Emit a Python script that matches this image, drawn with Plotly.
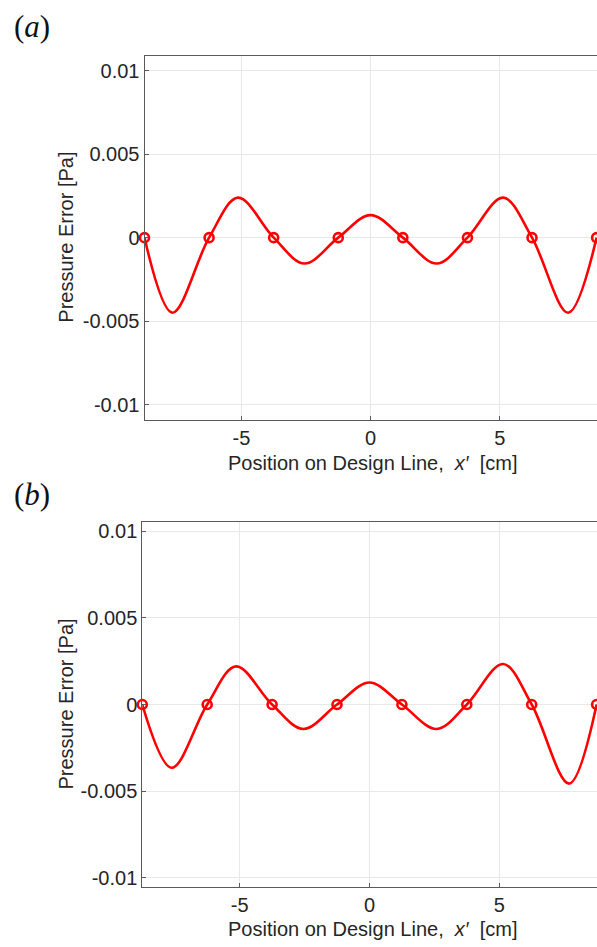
import plotly.graph_objects as go

# ---- data ----
x_nodes = [-8.75, -6.25, -3.75, -1.25, 1.25, 3.75, 6.25, 8.75]
y_nodes = [0, 0, 0, 0, 0, 0, 0, 0]

err_a_x = [-8.75, -7.67, -6.25, -5.13, -3.75, -2.56, -1.25, 0.0, 1.25, 2.56, 3.75, 5.13, 6.25, 7.65, 8.75]
err_a_y = [0, -0.0045, 0, 0.0024, 0, -0.00155, 0, 0.00135, 0, -0.00155, 0, 0.0024, 0, -0.0045, 0]

err_b_x = [-8.75, -7.62, -6.25, -5.14, -3.75, -2.55, -1.25, 0.0, 1.25, 2.59, 3.75, 5.15, 6.25, 7.69, 8.75]
err_b_y = [0, -0.00365, 0, 0.0022, 0, -0.00141, 0, 0.00127, 0, -0.00141, 0, 0.00234, 0, -0.00456, 0]

x_ticks = [-5, 0, 5]
x_ticktext = ["-5", "0", "5"]
y_ticks = [-0.01, -0.005, 0, 0.005, 0.01]
y_ticktext = ["-0.01", "-0.005", "0", "0.005", "0.01"]

W, H = 597, 947
RED = "#ff0000"
FONT = "Liberation Sans, Arial, sans-serif"

def px(x):
    return x / W

def py(y):
    return 1 - y / H

fig = go.Figure()

for i, (xs, ys) in enumerate([(err_a_x, err_a_y), (err_b_x, err_b_y)]):
    sfx = "" if i == 0 else "2"
    fig.add_trace(go.Scatter(x=xs, y=ys, mode="lines", line=dict(color=RED, width=2.6, shape="spline", smoothing=1.0),
                             xaxis="x" + sfx, yaxis="y" + sfx, showlegend=False, hoverinfo="skip"))
    fig.add_trace(go.Scatter(x=x_nodes, y=y_nodes, mode="markers",
                             marker=dict(symbol="circle-open", size=9, color=RED, line=dict(width=2.6, color=RED)),
                             cliponaxis=False, xaxis="x" + sfx, yaxis="y" + sfx, showlegend=False))

axis_common = dict(showline=True, linecolor="#5a5a5a", linewidth=1, ticks="inside", ticklen=4,
                   tickcolor="#5a5a5a", showgrid=True, gridcolor="#e8e8e8", gridwidth=1, zeroline=False,
                   tickfont=dict(family=FONT, size=20, color="#262626"))

# panel geometry (pixels)
pa = dict(l=144.5, t=54, b=419.3, xr=[-8.75, 8.765], yr=[-0.0109, 0.0109])
pb = dict(l=142.3, t=522.7, b=888.3, xr=[-8.75, 8.765], yr=[-0.0105, 0.0105])

fig.update_layout(
    width=W, height=H, margin=dict(l=0, r=0, t=0, b=0),
    paper_bgcolor="white", plot_bgcolor="white",
    xaxis=dict(domain=[px(pa["l"]), 1], range=pa["xr"], tickvals=x_ticks, ticktext=x_ticktext,
               anchor="y", mirror=True, **axis_common),
    yaxis=dict(domain=[py(pa["b"]), py(pa["t"])], range=pa["yr"], tickvals=y_ticks, ticktext=y_ticktext,
               anchor="x", **axis_common),
    xaxis2=dict(domain=[px(pb["l"]), 1], range=pb["xr"], tickvals=x_ticks, ticktext=x_ticktext,
                anchor="y2", mirror=True, **axis_common),
    yaxis2=dict(domain=[py(pb["b"]), py(pb["t"])], range=pb["yr"], tickvals=y_ticks, ticktext=y_ticktext,
                anchor="x2", **axis_common),
)

title_font = dict(family=FONT, size=20, color="#262626")
xtitle = "Position on Design Line, \u00a0<i>x′</i> \u00a0[cm]"
ann = []
for p, ytitle_y, label_y, lab in [(pa, 463, 25, "(<i>a</i>)"), (pb, 931, 495, "(<i>b</i>)")]:
    ann.append(dict(x=px(372), y=py(ytitle_y), xref="paper", yref="paper", text=xtitle, showarrow=False,
                    font=title_font, xanchor="center", yanchor="middle"))
    ann.append(dict(x=px(66), y=py((p["t"] + p["b"]) / 2), xref="paper", yref="paper", text="Pressure Error [Pa]",
                    showarrow=False, font=title_font, textangle=-90, xanchor="center", yanchor="middle"))
    ann.append(dict(x=px(12), y=py(label_y), xref="paper", yref="paper", text=lab, showarrow=False,
                    font=dict(family="Liberation Serif, DejaVu Serif, serif", size=31, color="#111111"),
                    xanchor="left", yanchor="middle"))
fig.update_layout(annotations=ann)

fig.write_html("out.html")
